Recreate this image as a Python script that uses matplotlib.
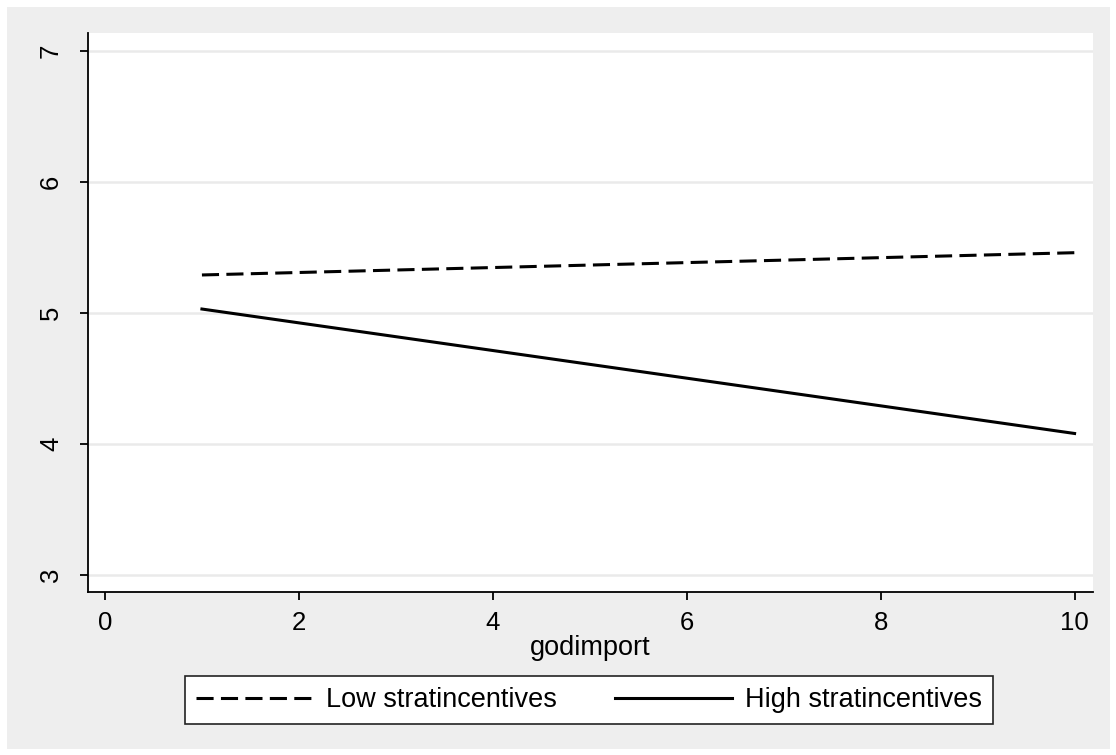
import matplotlib
matplotlib.use("Agg")
import matplotlib.pyplot as plt

plt.rcParams["font.family"] = ["Liberation Sans", "DejaVu Sans"]

# fitted lines at godimport = 1 and 10
godimport = [1, 10]
low_strat = [5.29, 5.46]
high_strat = [5.03, 4.08]

x_ticks = [0, 2, 4, 6, 8, 10]
y_ticks = [3, 4, 5, 6, 7]

W, H = 1116, 755
fig = plt.figure(figsize=(W / 100, H / 100), dpi=100)
fig.patch.set_facecolor("#EEEEEE")
fig.patch.set_edgecolor("white")
fig.patch.set_linewidth(8)

ax = fig.add_axes([88 / W, 1 - 592 / H, (1093 - 88) / W, (592 - 33) / H])
ax.set_facecolor("white")

ax.plot(godimport, low_strat, color="black", lw=2.2, dashes=(5.6, 2.4),
        label="Low stratincentives")
ax.plot(godimport, high_strat, color="black", lw=2.2, label="High stratincentives")

ax.set_xlim(-0.175, 10.19)
ax.set_ylim(2.87, 7.137)
ax.set_xticks(x_ticks)
ax.set_yticks(y_ticks)
ax.grid(axis="y", color="#EAEAEA", lw=1.8)
ax.set_axisbelow(True)

for s in ("top", "right"):
    ax.spines[s].set_visible(False)
for s in ("left", "bottom"):
    ax.spines[s].set_linewidth(1.3)
    ax.spines[s].set_color("black")

ax.tick_params(axis="both", length=6, width=1.3, labelsize=18.5)
ax.tick_params(axis="x", pad=8)
ax.tick_params(axis="y", pad=12)
for lab in ax.get_yticklabels():
    lab.set_rotation(90)
    lab.set_va("center")

ax.set_xlabel("godimport", fontsize=19.5, labelpad=0)

leg = fig.legend(loc="lower left", ncol=2, mode="expand",
                 bbox_to_anchor=(185 / W, 1 - 724 / H, 808 / W, 46 / H),
                 fontsize=19.5, handlelength=4.3, handletextpad=0.5,
                 frameon=True, fancybox=False, borderaxespad=0,
                 framealpha=1)
leg.get_frame().set_edgecolor("#222222")
leg.get_frame().set_linewidth(1.2)
leg.get_frame().set_facecolor("white")

fig.savefig("out.png", dpi=100, facecolor=fig.get_facecolor(),
            edgecolor=fig.get_edgecolor())
